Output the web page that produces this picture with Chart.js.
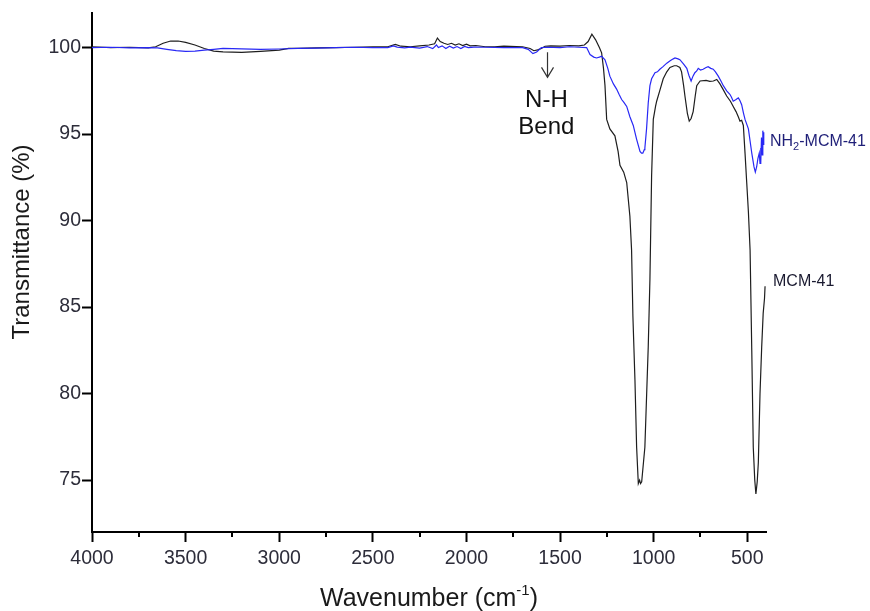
<!DOCTYPE html>
<html>
<head>
<meta charset="utf-8">
<title>FTIR MCM-41</title>
<script src="https://cdn.jsdelivr.net/npm/chart.js@4.4.1/dist/chart.umd.min.js"></script>
<style>
  body { margin: 0; background: #fff; }
  canvas { display: block; }
</style>
</head>
<body>
<canvas id="ftir" width="870" height="611"></canvas>
<script>
// wavenumber (cm-1) / transmittance (%) for the plain silica
var mcmWn = [4000, 3900, 3800, 3700, 3660, 3620, 3580, 3540, 3500, 3450, 3400, 3350, 3300, 3200, 3100, 3000, 2950, 2900, 2800, 2700, 2600, 2500, 2420, 2380, 2350, 2300, 2250, 2200, 2170, 2155, 2140, 2120, 2100, 2080, 2060, 2040, 2020, 2000, 1980, 1950, 1900, 1850, 1800, 1700, 1660, 1640, 1620, 1600, 1580, 1550, 1500, 1450, 1400, 1370, 1350, 1330, 1310, 1290, 1278, 1268, 1260, 1251, 1234, 1207, 1190, 1180, 1160, 1144, 1127, 1118, 1111, 1100, 1091, 1082, 1075, 1070, 1064, 1047, 1029, 1020, 1011, 1002, 990, 984, 965, 949, 930, 913, 890, 877, 860, 851, 840, 833, 820, 810, 800, 789, 778, 770, 752, 720, 700, 681, 663, 646, 630, 610, 590, 575, 560, 548, 539, 530, 521, 512, 503, 494, 485, 476, 468, 460, 454, 447, 441, 432, 423, 415, 408, 405];
var mcmT = [100.05, 100.0, 100.02, 99.98, 100.05, 100.25, 100.38, 100.38, 100.3, 100.15, 99.95, 99.8, 99.75, 99.72, 99.78, 99.85, 99.95, 99.95, 99.98, 100.0, 100.02, 100.05, 100.05, 100.18, 100.08, 100.05, 100.1, 100.15, 100.22, 100.55, 100.35, 100.25, 100.18, 100.25, 100.15, 100.22, 100.12, 100.2, 100.1, 100.12, 100.05, 100.05, 100.08, 100.05, 99.95, 99.82, 99.87, 99.95, 100.08, 100.1, 100.08, 100.12, 100.1, 100.15, 100.35, 100.77, 100.45, 100.0, 99.7, 98.8, 97.8, 95.85, 95.3, 94.9, 94.0, 93.2, 92.8, 92.2, 90.25, 88.3, 84.5, 80.8, 76.9, 74.8, 75.0, 74.8, 74.9, 76.9, 82.7, 86.6, 92.6, 95.85, 96.6, 96.9, 97.6, 98.2, 98.6, 98.85, 98.95, 98.95, 98.85, 98.6, 97.8, 97.2, 96.2, 95.75, 95.9, 96.3, 97.2, 97.8, 98.07, 98.1, 98.05, 98.07, 98.16, 97.9, 97.6, 97.2, 96.9, 96.6, 96.3, 96.0, 95.75, 95.8, 95.5, 93.9, 92.2, 90.5, 88.3, 82.5, 76.9, 75.0, 74.2, 74.9, 76.0, 80.0, 82.7, 84.65, 85.5, 86.2];

// amine-grafted sample
var nh2Wn = [4000, 3900, 3800, 3700, 3650, 3600, 3550, 3500, 3450, 3400, 3350, 3300, 3200, 3100, 3000, 2900, 2800, 2700, 2600, 2500, 2420, 2390, 2370, 2330, 2300, 2250, 2210, 2180, 2160, 2150, 2130, 2110, 2090, 2070, 2050, 2030, 2010, 1990, 1960, 1900, 1800, 1700, 1670, 1645, 1625, 1600, 1570, 1500, 1450, 1400, 1358, 1340, 1320, 1305, 1290, 1278, 1260, 1245, 1234, 1215, 1198, 1185, 1171, 1160, 1144, 1127, 1109, 1091, 1073, 1065, 1058, 1050, 1047, 1038, 1029, 1020, 1011, 993, 980, 967, 950, 930, 910, 895, 886, 870, 860, 840, 823, 812, 800, 790, 780, 770, 762, 750, 736, 720, 709, 695, 682, 670, 655, 640, 628, 610, 593, 585, 575, 560, 548, 540, 530, 520, 512, 494, 485, 476, 464, 457, 450, 443, 436, 432, 429, 427, 424, 420, 417, 414, 412];
var nh2T = [100.0, 100.02, 99.98, 100.0, 99.98, 99.9, 99.82, 99.78, 99.8, 99.85, 99.9, 99.95, 99.93, 99.9, 99.92, 99.95, 99.97, 100.0, 100.02, 100.0, 100.0, 100.1, 100.03, 99.98, 100.03, 99.97, 100.06, 99.94, 100.15, 100.0, 100.1, 99.95, 100.08, 99.97, 100.06, 99.95, 100.07, 100.0, 100.03, 100.02, 100.0, 100.0, 99.9, 99.65, 99.75, 100.0, 100.02, 100.0, 100.05, 100.02, 100.0, 99.6, 99.45, 99.4, 99.45, 99.5, 99.3, 98.8, 98.35, 97.9, 97.6, 97.3, 97.0, 96.85, 96.6, 96.0, 95.5, 94.7, 94.0, 93.9, 93.9, 94.1, 94.2, 95.3, 96.8, 97.8, 98.2, 98.55, 98.6, 98.75, 98.9, 99.1, 99.25, 99.35, 99.4, 99.35, 99.3, 99.05, 98.8, 98.4, 98.07, 98.35, 98.55, 98.65, 98.8, 98.7, 98.75, 98.85, 98.9, 98.8, 98.75, 98.6, 98.35, 98.05, 97.8, 97.5, 97.3, 97.15, 96.9, 97.0, 97.1, 96.95, 96.7, 96.2, 95.85, 95.3, 94.6, 93.9, 93.1, 92.8, 93.1, 93.6, 93.9, 93.3, 94.2, 93.35, 94.8, 93.8, 95.2, 94.4, 95.1];

var xTicks = [4000, 3500, 3000, 2500, 2000, 1500, 1000, 500];
var xMinor = [3750, 3250, 2750, 2250, 1750, 1250, 750];
var yTicks = [75, 80, 85, 90, 95, 100];

var FONT = "'Liberation Sans', Arial, sans-serif";
var TICK_COLOR = '#2d2d3a';

function toPoints(xs, ys) {
    return xs.map(function (x, i) { return { x: x, y: ys[i] } })
}

// axis titles, minor ticks, peak note and curve names
var decorations = {
    id: 'decorations',
    afterDraw: function (chart) {
        var ctx = chart.ctx
        var xs = chart.scales.x
        var ys = chart.scales.y
        var area = chart.chartArea
        ctx.save()

        // minor ticks on the wavenumber axis
        ctx.strokeStyle = '#000'
        ctx.lineWidth = 2
        xMinor.forEach(function (v) {
            var px = Math.round(xs.getPixelForValue(v))
            ctx.beginPath()
            ctx.moveTo(px, area.bottom)
            ctx.lineTo(px, area.bottom + 5)
            ctx.stroke()
        })

        // y title
        ctx.fillStyle = '#1a1a1a'
        ctx.font = '24px ' + FONT
        ctx.textAlign = 'center'
        ctx.textBaseline = 'middle'
        ctx.save()
        ctx.translate(22, 242)
        ctx.rotate(-Math.PI / 2)
        ctx.fillText('Transmittance (%)', 0, 0)
        ctx.restore()

        // x title with superscript
        ctx.textAlign = 'left'
        ctx.textBaseline = 'alphabetic'
        var big = '25px ' + FONT
        var small = '15px ' + FONT
        ctx.font = big
        var w1 = ctx.measureText('Wavenumber (cm').width
        var w3 = ctx.measureText(')').width
        ctx.font = small
        var w2 = ctx.measureText('-1').width
        var cx = (area.left + area.right) / 2
        var sx = cx - (w1 + w2 + w3) / 2
        var base = 606
        ctx.font = big
        ctx.fillText('Wavenumber (cm', sx, base)
        ctx.font = small
        ctx.fillText('-1', sx + w1, base - 11)
        ctx.font = big
        ctx.fillText(')', sx + w1 + w2, base)

        // N-H bend note with arrow
        var ax = xs.getPixelForValue(1567)
        ctx.strokeStyle = '#333'
        ctx.lineWidth = 1.2
        ctx.beginPath()
        ctx.moveTo(ax, ys.getPixelForValue(99.73))
        ctx.lineTo(ax, ys.getPixelForValue(98.28))
        ctx.moveTo(ax - 6, ys.getPixelForValue(98.86))
        ctx.lineTo(ax, ys.getPixelForValue(98.28))
        ctx.lineTo(ax + 6, ys.getPixelForValue(98.86))
        ctx.stroke()
        ctx.fillStyle = '#111'
        ctx.font = '24px ' + FONT
        ctx.textAlign = 'center'
        var tx = xs.getPixelForValue(1573)
        ctx.fillText('N-H', tx, ys.getPixelForValue(96.58))
        ctx.fillText('Bend', tx, ys.getPixelForValue(94.98))

        // curve names at the right end
        ctx.textAlign = 'left'
        var lx = area.right + 4
        var ly = ys.getPixelForValue(94.34)
        ctx.fillStyle = '#1f1f78'
        ctx.font = '16px ' + FONT
        ctx.fillText('NH', lx, ly)
        var wNH = ctx.measureText('NH').width
        ctx.font = '11px ' + FONT
        ctx.fillText('2', lx + wNH, ly + 4)
        var w2s = ctx.measureText('2').width
        ctx.font = '16px ' + FONT
        ctx.fillText('-MCM-41', lx + wNH + w2s, ly)

        ctx.fillStyle = '#1a1a30'
        ctx.fillText('MCM-41', area.right + 7, ys.getPixelForValue(86.24))
        ctx.restore()
    }
}

var config = {
    type: 'line',
    data: {
        datasets: [
            {
                label: 'NH2-MCM-41',
                data: toPoints(nh2Wn, nh2T),
                borderColor: 'rgb(40, 40, 245)',
                borderWidth: 1.2,
                pointRadius: 0,
                tension: 0
            },
            {
                label: 'MCM-41',
                data: toPoints(mcmWn, mcmT),
                borderColor: '#1e1e1e',
                borderWidth: 1.2,
                pointRadius: 0,
                tension: 0
            }
        ]
    },
    options: {
        responsive: false,
        animation: false,
        devicePixelRatio: 1,
        layout: { padding: { top: 13, right: 104, left: 0, bottom: 0 } },
        plugins: { legend: { display: false }, tooltip: { enabled: false } },
        scales: {
            x: {
                type: 'linear',
                reverse: true,
                min: 400,
                max: 4000,
                afterBuildTicks: function (scale) {
                    scale.ticks = xTicks.map(function (v) { return { value: v } })
                },
                afterFit: function (scale) { scale.height = 79 },
                border: { display: true, color: '#000', width: 2 },
                grid: { drawOnChartArea: false, drawTicks: true, tickLength: 10, tickColor: '#000', tickWidth: 2 },
                ticks: {
                    autoSkip: false,
                    maxRotation: 0,
                    padding: 5,
                    color: TICK_COLOR,
                    font: { family: FONT, size: 19.5 },
                    callback: function (v) { return String(v) }
                }
            },
            y: {
                min: 72,
                max: 102,
                afterBuildTicks: function (scale) {
                    scale.ticks = yTicks.map(function (v) { return { value: v } })
                },
                afterFit: function (scale) { scale.width = 92 },
                border: { display: true, color: '#000', width: 2 },
                grid: { drawOnChartArea: false, drawTicks: true, tickLength: 10, tickColor: '#000', tickWidth: 2 },
                ticks: {
                    autoSkip: false,
                    padding: 1,
                    color: TICK_COLOR,
                    font: { family: FONT, size: 19.5 },
                    callback: function (v) { return String(v) }
                }
            }
        }
    },
    plugins: [decorations]
}

var CHART = new Chart(document.getElementById('ftir'), config)
</script>
</body>
</html>
